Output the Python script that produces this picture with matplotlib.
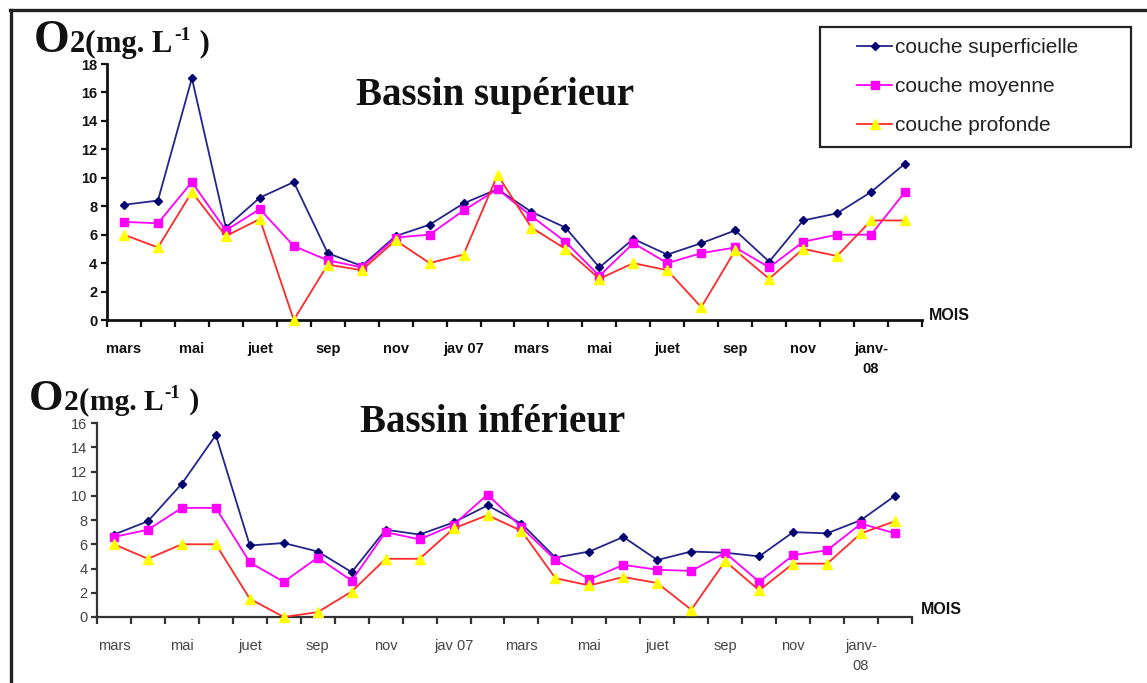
import matplotlib
matplotlib.use("Agg")
import matplotlib.pyplot as plt
from matplotlib.lines import Line2D
from matplotlib.legend_handler import HandlerLine2D

# Monthly O2 readings, March 2006 to February 2008
months = ["mars", "avr", "mai", "juin", "juil", "août", "sep", "oct", "nov", "déc",
          "jan07", "fév", "mars", "avr", "mai", "juin", "juil", "août", "sep", "oct",
          "nov", "déc", "jan08", "fév"]
month_labels = ["mars", "mai", "juet", "sep", "nov", "jav 07", "mars", "mai",
                "juet", "sep", "nov", "janv-\n08"]

series_names = ["couche superficielle", "couche moyenne", "couche profonde"]

# Bassin supérieur
sup_superficielle = [8.1, 8.4, 17.0, 6.5, 8.6, 9.7, 4.7, 3.8, 5.9, 6.7, 8.2, 9.2,
                     7.6, 6.5, 3.7, 5.7, 4.6, 5.4, 6.3, 4.1, 7.0, 7.5, 9.0, 11.0]
sup_moyenne = [6.9, 6.8, 9.7, 6.3, 7.8, 5.2, 4.2, 3.7, 5.8, 6.0, 7.7, 9.2,
               7.3, 5.5, 3.1, 5.4, 4.0, 4.7, 5.1, 3.7, 5.5, 6.0, 6.0, 9.0]
sup_profonde = [6.0, 5.1, 9.0, 5.9, 7.1, 0.0, 3.9, 3.5, 5.6, 4.0, 4.6, 10.2,
                6.5, 5.0, 2.9, 4.0, 3.5, 0.9, 4.9, 2.9, 5.0, 4.5, 7.0, 7.0]

# Bassin inférieur
inf_superficielle = [6.8, 7.9, 11.0, 15.0, 5.9, 6.1, 5.4, 3.7, 7.2, 6.8, 7.8, 9.2,
                     7.7, 4.9, 5.4, 6.6, 4.7, 5.4, 5.3, 5.0, 7.0, 6.9, 8.0, 10.0]
inf_moyenne = [6.6, 7.2, 9.0, 9.0, 4.5, 2.9, 4.9, 3.0, 7.0, 6.4, 7.6, 10.1,
               7.4, 4.7, 3.1, 4.3, 3.9, 3.8, 5.3, 2.9, 5.1, 5.5, 7.7, 6.9]
inf_profonde = [6.0, 4.8, 6.0, 6.0, 1.5, 0.0, 0.4, 2.1, 4.8, 4.8, 7.3, 8.4,
                7.1, 3.2, 2.6, 3.3, 2.8, 0.6, 4.6, 2.2, 4.4, 4.4, 6.9, 7.9]

W, H = 1147, 683
fig = plt.figure(figsize=(W / 100, H / 100), dpi=100)
fig.patch.set_facecolor("white")


def px(x, y):
    return x / W, 1 - y / H


def axes_box(left, right, top, bottom):
    return [left / W, 1 - bottom / H, (right - left) / W, (bottom - top) / H]


styles = [
    dict(color="#24248a", marker="D", markersize=4.5, markerfacecolor="#000070",
         markeredgecolor="#000070", linewidth=1.3),
    dict(color="#ff00ff", marker="s", markersize=6, markerfacecolor="#ff00ff",
         markeredgecolor="#ff00ff", linewidth=1.3),
    dict(color="#ff2a2a", marker="^", markersize=6.5, markerfacecolor="#ffff00",
         markeredgecolor="#ffff00", linewidth=1.3),
]

x = list(range(len(months)))
label_pos = x[::2]


def draw_panel(ax, data, ymax, ystep, bold, axis_color, label_color):
    handles = []
    for vals, st, name in zip(data, styles, series_names):
        h, = ax.plot(x, vals, label=name, zorder=3, clip_on=False, **st)
        handles.append(h)
    ax.set_xlim(-0.5, len(months) - 0.5)
    ax.set_ylim(0, ymax)
    ax.set_yticks(range(0, ymax + 1, ystep))
    for s in ("top", "right"):
        ax.spines[s].set_visible(False)
    for s in ("left", "bottom"):
        ax.spines[s].set_color(axis_color)
        ax.spines[s].set_linewidth(2.0 if bold else 1.6)
    weight = "bold" if bold else "normal"
    # category boundaries carry the tick marks; labels sit on every other month
    ax.set_xticks([i - 0.5 for i in range(len(months) + 1)])
    ax.set_xticklabels([])
    ax.set_xticks(label_pos, minor=True)
    ax.set_xticklabels(month_labels, minor=True, fontsize=10.5, fontweight=weight,
                       color=label_color, fontfamily="Liberation Sans",
                       linespacing=1.5, va="top")
    ax.tick_params(axis="x", which="major", length=5, width=1.6, color=axis_color,
                   direction="out")
    ax.tick_params(axis="x", which="minor", length=0, pad=16)
    ax.tick_params(axis="y", length=4, width=1.6, color=axis_color, pad=3,
                   labelsize=10.5, labelcolor=label_color)
    for t in ax.get_yticklabels():
        t.set_fontweight(weight)
        t.set_fontfamily("Liberation Sans")
    return handles


ax1 = fig.add_axes(axes_box(107, 922, 64, 320))
handles = draw_panel(ax1, [sup_superficielle, sup_moyenne, sup_profonde], 18, 2,
                     True, "#111111", "#111111")

ax2 = fig.add_axes(axes_box(97, 912, 423, 617))
draw_panel(ax2, [inf_superficielle, inf_moyenne, inf_profonde], 16, 2,
           False, "#333333", "#444444")

# axis name at the end of each x axis
fig.text(*px(929, 315), "MOIS", fontsize=11.5, fontweight="bold", color="#111111",
         fontfamily="Liberation Sans", va="center", ha="left")
fig.text(*px(921, 609), "MOIS", fontsize=11.5, fontweight="bold", color="#111111",
         fontfamily="Liberation Sans", va="center", ha="left")

# panel titles
fig.text(*px(495, 95), "Bassin supérieur", fontsize=28, fontweight="bold",
         fontfamily="Liberation Serif", ha="center", va="center", color="#111111")
fig.text(*px(493, 423), "Bassin inférieur", fontsize=28, fontweight="bold",
         fontfamily="Liberation Serif", ha="center", va="center", color="#111111")

# y unit labels, built piece by piece
renderer = fig.canvas.get_renderer()


def unit_label(x0, baseline, scale):
    pieces = [("O", 33 * scale, 0, 0), ("2", 22 * scale, 0, 0),
              ("(", 23 * scale, -1, 1), ("mg. L", 22 * scale, 0, 1),
              ("-1", 14 * scale, -12 * scale, 2), (" )", 22 * scale, -1, 0)]
    cur = x0
    for txt, size, dy, gap in pieces:
        t = fig.text(*px(cur, baseline + dy), txt, fontsize=size, fontweight="bold",
                     fontfamily="Liberation Serif", ha="left", va="baseline",
                     color="#111111")
        bb = t.get_window_extent(renderer)
        cur += bb.width + gap


unit_label(34, 52, 1.0)
unit_label(29, 410, 0.97)

# legend box in the upper right
leg_fs = 15
leg = fig.legend(handles=handles, labels=series_names, loc="upper left",
                 bbox_to_anchor=(820 / W, 1 - 145 / H, 311 / W, 118 / H),
                 mode="expand", frameon=True, fancybox=False,
                 edgecolor="#222222", framealpha=1,
                 prop={"family": "Liberation Sans", "size": leg_fs},
                 handlelength=2.9, handletextpad=0.15, labelspacing=0.95,
                 borderpad=0.55, borderaxespad=0,
                 handler_map={Line2D: HandlerLine2D(xpad=1.25)})
leg.get_frame().set_linewidth(1.6)
for t in leg.get_texts():
    t.set_color("#222222")

# page frame: top and left rules
fig.add_artist(Line2D([10 / W, 1], [1 - 10 / H, 1 - 10 / H], color="#222222",
                      linewidth=2.4, transform=fig.transFigure))
fig.add_artist(Line2D([11 / W, 11 / W], [0, 1 - 10 / H], color="#222222",
                      linewidth=2.4, transform=fig.transFigure))

fig.savefig("out.png", dpi=100, facecolor="white")
